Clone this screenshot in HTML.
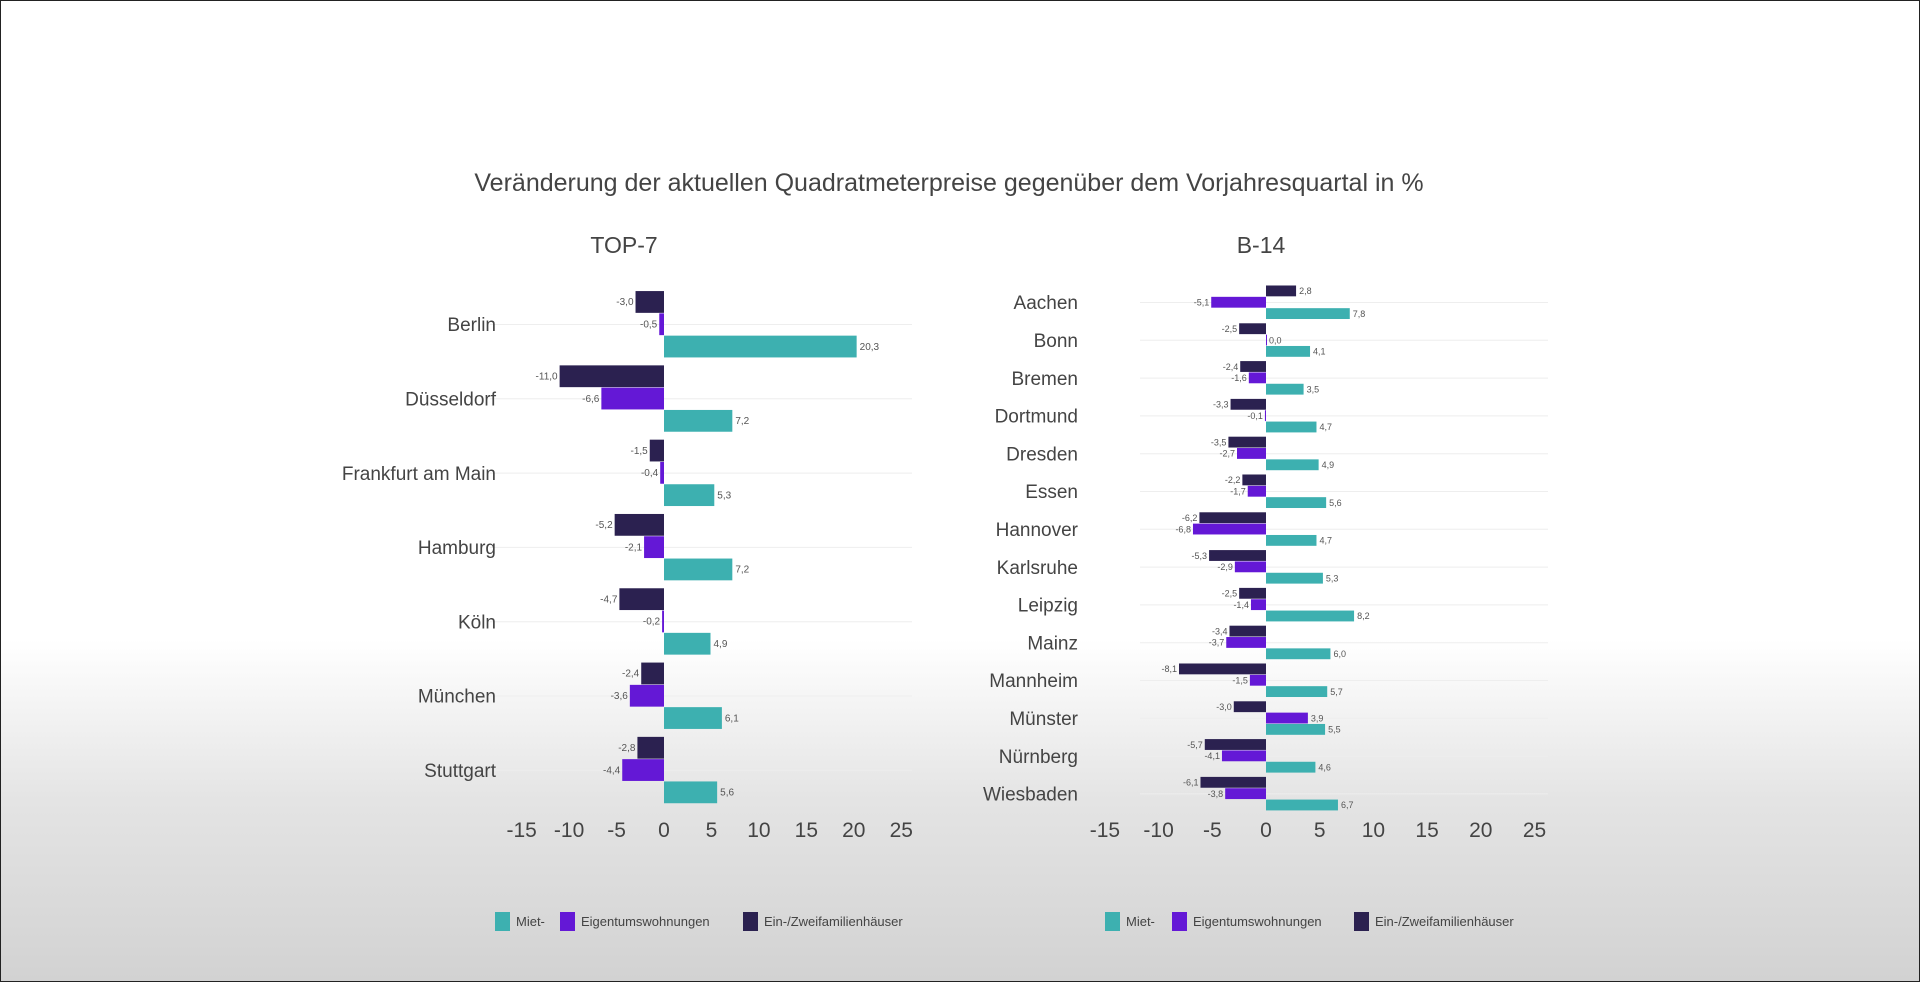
<!DOCTYPE html>
<html><head><meta charset="utf-8"><style>
html,body{margin:0;padding:0;}
body{width:1920px;height:982px;overflow:hidden;background:linear-gradient(to bottom,#fff 0,#fff 640px,#e4e4e4 800px,#d2d2d2 982px);font-family:"Liberation Sans",sans-serif;}
svg{position:absolute;left:0;top:0;}
</style></head><body>
<svg id="c" width="1920" height="982">
<rect x="0.5" y="0.5" width="1919" height="981" fill="none" stroke="#222" stroke-width="1"/>
<text x="949" y="191" text-anchor="middle" font-size="25" fill="#444" font-family="Liberation Sans Narrow, Liberation Sans, sans-serif">Veränderung der aktuellen Quadratmeterpreise gegenüber dem Vorjahresquartal in %</text>
<text x="624" y="253" text-anchor="middle" font-size="23" fill="#444" font-family="Liberation Sans Narrow, Liberation Sans, sans-serif">TOP-7</text>
<text x="1261" y="253" text-anchor="middle" font-size="23" fill="#444" font-family="Liberation Sans Narrow, Liberation Sans, sans-serif">B-14</text>
</svg>
<script>
const topCities=["Berlin","Düsseldorf","Frankfurt am Main","Hamburg","Köln","München","Stuttgart"];
const topMiet=[20.3,7.2,5.3,7.2,4.9,6.1,5.6];
const topEig=[-0.5,-6.6,-0.4,-2.1,-0.2,-3.6,-4.4];
const topEfh=[-3.0,-11.0,-1.5,-5.2,-4.7,-2.4,-2.8];
const bCities=["Aachen","Bonn","Bremen","Dortmund","Dresden","Essen","Hannover","Karlsruhe","Leipzig","Mainz","Mannheim","Münster","Nürnberg","Wiesbaden"];
const bMiet=[7.8,4.1,3.5,4.7,4.9,5.6,4.7,5.3,8.2,6.0,5.7,5.5,4.6,6.7];
const bEig=[-5.1,0.0,-1.6,-0.1,-2.7,-1.7,-6.8,-2.9,-1.4,-3.7,-1.5,3.9,-4.1,-3.8];
const bEfh=[2.8,-2.5,-2.4,-3.3,-3.5,-2.2,-6.2,-5.3,-2.5,-3.4,-8.1,-3.0,-5.7,-6.1];
const ticks=[-15,-10,-5,0,5,10,15,20,25];
const seriesNames=["Miet-","Eigentumswohnungen","Ein-/Zweifamilienhäuser"];
const colors={miet:"#3db0b0",eig:"#6418d6",efh:"#2b2150"};
const NS="http://www.w3.org/2000/svg";
const svg=document.getElementById("c");
function mk(t,a,p){const e=document.createElementNS(NS,t);for(const k in a)e.setAttribute(k,a[k]);(p||svg).appendChild(e);return e;}
const fmt=v=>v.toFixed(1).replace(".",",");
function chart(key,cfg,cities,miet,eig,efh){
  const g=mk("g",{});
  
  
  const x=v=>cfg.x0+v*cfg.unit;
  const y=i=>cfg.y0+i*cfg.step;
  const bh=cfg.step*cfg.frac/3;
  cities.forEach((c,i)=>{
    const gl=mk("line",{x1:cfg.gx1,x2:cfg.gx2,y1:y(i),y2:y(i),stroke:"#eee","stroke-width":1},g);
    
    
    const t=mk("text",{x:cfg.lx,y:y(i)+cfg.fs*0.35,"text-anchor":"end","font-size":cfg.fs,fill:"#444","font-family":"Liberation Sans Narrow, Liberation Sans, sans-serif"},g);
    t.textContent=c;
    
    
    const vals=[[efh[i],colors.efh,'efh'],[eig[i],colors.eig,'eig'],[miet[i],colors.miet,'miet']];
    vals.forEach((s,j)=>{
      const v=s[0];const top=y(i)-1.5*bh+j*bh;
      const r=mk("rect",{x:Math.min(x(0),x(v)),y:top,width:Math.max(Math.abs(x(v)-x(0)),1),height:bh-0.5,fill:s[1]},g);
      
      
      const lt=mk("text",{x:v<0?x(v)-2:x(v)+3,y:top+bh/2+3,"text-anchor":v<0?"end":"start","font-size":cfg.vs,fill:"#555","font-family":"Liberation Sans Narrow, Liberation Sans, sans-serif"},g);
      lt.textContent=fmt(v);
      
      
    });
  });
  ticks.forEach(tv=>{
    const t=mk("text",{x:x(tv),y:cfg.ty,"text-anchor":"middle","font-size":21,fill:"#444","font-family":"Liberation Sans Narrow, Liberation Sans, sans-serif"},g);
    t.textContent=tv;
    
    
  });
  const lx=cfg.legX;
  seriesNames.forEach((n,k)=>{
    const col=[colors.miet,colors.eig,colors.efh][k];
    const r=mk("rect",{x:lx[k],y:912,width:15,height:19,fill:col},g);
    
    
    const t=mk("text",{x:lx[k]+21,y:926,"font-size":13,fill:"#444","font-family":"Liberation Sans Narrow, Liberation Sans, sans-serif"},g);
    t.textContent=n;
    
    
  });
}
chart("top7",{x0:664,unit:9.49,y0:324.5,step:74.3,frac:0.9,lx:496,fs:19,vs:10,gx1:490,gx2:912,ty:837,legX:[495,560,743]},topCities,topMiet,topEig,topEfh);
chart("b14",{x0:1266,unit:10.74,y0:302.5,step:37.8,frac:0.9,lx:1078,fs:19,vs:9,gx1:1140,gx2:1548,ty:837,legX:[1105,1172,1354]},bCities,bMiet,bEig,bEfh);
</script>
</body></html>
